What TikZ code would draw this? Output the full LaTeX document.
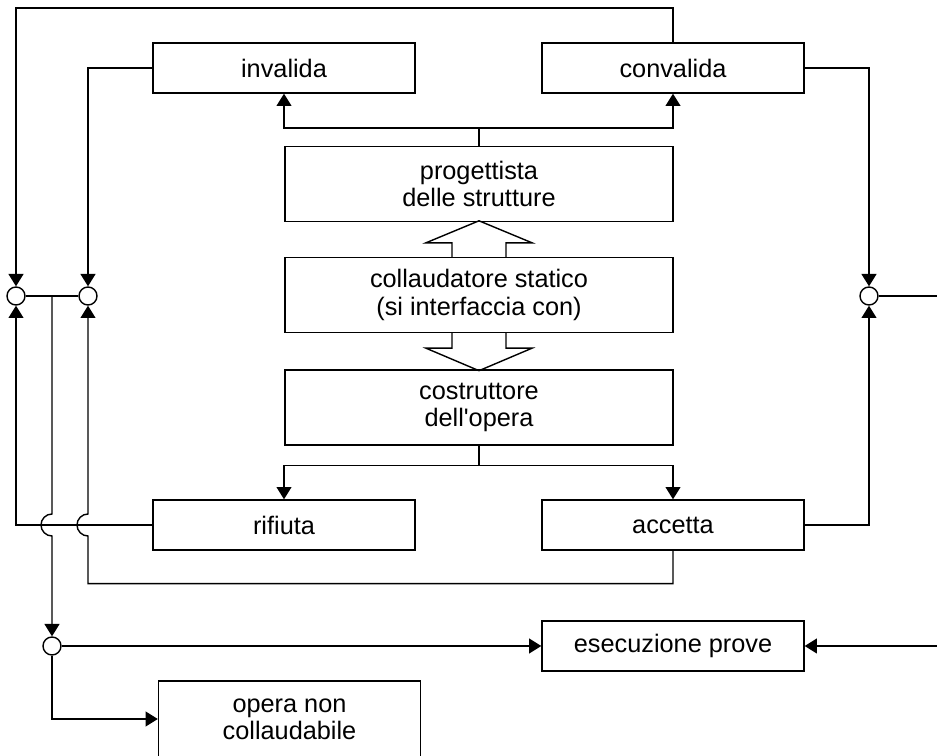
\documentclass[tikz,border=0pt]{standalone}
\usepackage{fontspec}
\setmainfont{Liberation Sans}
\usetikzlibrary{arrows.meta}

\tikzset{
  box/.style={draw, minimum width=5.24cm, minimum height=1cm, align=center, inner sep=0pt},
  bigbox/.style={box, minimum width=7.76cm, minimum height=1.5cm},
  junc/.style={draw, circle, minimum size=0.36cm, inner sep=0pt, fill=white},
  arr/.style={-{Triangle[length=7pt,width=8.5pt]}}
}

\begin{document}
\begin{tikzpicture}[x=0.02cm, y=0.02cm, line width=0.8pt, font=\fontsize{14.4}{15.5}\selectfont]
\useasboundingbox (0,0) rectangle (937,-756);

% boxes
\node[box] (inv) at (284,-68) {invalida};
\node[box] (conv) at (673,-68) {convalida};
\node[bigbox] (prog) at (479,-184) {progettista\\delle strutture};
\node[bigbox] (coll) at (479,-295) {collaudatore statico\\(si interfaccia con)};
\node[bigbox] (costr) at (479,-407.5) {costruttore\\dell\textquotesingle opera};
\node[box] (rif) at (284,-525) {rifiuta};
\node[box] (acc) at (673,-525) {accetta};
\node[box] (esec) at (673,-646) {esecuzione prove};
\node[box, minimum height=1.52cm] (opera) at (289.5,-719) {opera non\\collaudabile};

% junctions
\node[junc] (jl1) at (16,-296) {};
\node[junc] (jl2) at (88,-296) {};
\node[junc] (jr) at (869,-296) {};
\node[junc] (jb) at (52,-646) {};
\coordinate (tl) at (16,-8);
\coordinate (jm) at (52,-296);
\coordinate (rout) at (937,-296);
\coordinate (ein) at (937,-646);

% hollow arrows
\draw[shift={(coll.north)}] (-27,0) -- (-27,14) -- (-53,14) -- (0,36) -- (53,14) -- (27,14) -- (27,0);
\draw[shift={(coll.south)}] (-27,0) -- (-27,-15) -- (-53,-15) -- (0,-37.5) -- (53,-15) -- (27,-15) -- (27,0);

% progettista
\draw[arr] (prog.north) -- ++(0,18) -| (inv.south);
\draw[arr] (prog.north) ++(0,18) -| (conv.south);

% costruttore
\draw[arr] (costr.south) -- ++(0,-20) -| (rif.north);
\draw[arr] (costr.south) ++(0,-20) -| (acc.north);

% feedback lines
\draw[arr] (conv.north) |- (tl) -- (jl1);
\draw[arr] (inv.west) -| (jl2);
\draw[arr] (conv.east) -| (jr);
\draw[arr] (rif.west) -| (jl1);
\draw[arr] (acc.east) -| (jr);
\draw[arr] (acc.south) -- ++(0,-33) -| (88,-536) arc[start angle=270, end angle=90, radius=0.22cm] -- (jl2);
\draw (jr) -- (rout);

% esecuzione prove
\draw (jl1) -- (jl2);
\draw[arr] (jm) -- (52,-514) arc[start angle=90, end angle=270, radius=0.22cm] -- (jb);
\draw[arr] (jb) -- (esec.west);
\draw[arr] (ein) -- (esec.east);
\draw[arr] (jb) |- (opera.west);
\end{tikzpicture}
\end{document}
